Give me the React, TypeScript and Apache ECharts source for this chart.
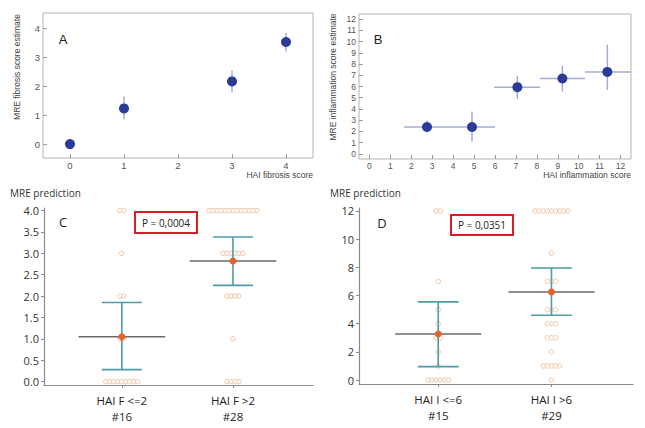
import React, { useEffect, useRef } from "react";
import * as echarts from "echarts";

// Panel A: fibrosis
const aX = [0, 1, 3, 4];
const aY = [0, 1.23, 2.16, 3.52];
const aYLow = [-0.04, 0.85, 1.78, 3.19];
const aYHigh = [0.04, 1.64, 2.54, 3.83];
const aTicksX = [0, 1, 2, 3, 4];
const aTicksY = [0, 1, 2, 3, 4];

// Panel B: inflammation
const bX = [2.75, 4.9, 7.07, 9.22, 11.37];
const bY = [2.4, 2.4, 5.94, 6.71, 7.3];
const bXLow = [1.66, 3.85, 5.96, 8.15, 10.3];
const bXHigh = [3.85, 6.0, 8.15, 10.3, 12.5];
const bYLow = [1.9, 1.1, 4.87, 5.55, 5.7];
const bYHigh = [2.97, 3.77, 6.95, 7.84, 9.71];
const bTicks = [0, 1, 2, 3, 4, 5, 6, 7, 8, 9, 10, 11, 12];

// Panel C: MRE prediction vs HAI F
const cCategories = ["HAI F <=2\n#16", "HAI F >2\n#28"];
const cGroup1 = [0, 0, 0, 0, 0, 0, 0, 0, 0, 1, 1, 2, 2, 3, 4, 4];
const cGroup2 = [0, 0, 0, 0, 1, 2, 2, 2, 2, 3, 3, 3, 3, 3, 3, 4, 4, 4, 4, 4, 4, 4, 4, 4, 4, 4, 4, 4];
const cMeans = [1.05, 2.82];
const cLow = [0.28, 2.25];
const cHigh = [1.85, 3.38];
const cTicks = [0, 0.5, 1, 1.5, 2, 2.5, 3, 3.5, 4];

// Panel D: MRE prediction vs HAI I
const dCategories = ["HAI I <=6\n#15", "HAI I >6\n#29"];
const dGroup1 = [0, 0, 0, 0, 0, 0, 1, 2, 3, 3, 4, 5, 7, 12, 12];
const dGroup2 = [0, 1, 1, 1, 1, 1, 2, 3, 3, 3, 4, 4, 4, 5, 5, 5, 7, 7, 7, 9, 12, 12, 12, 12, 12, 12, 12, 12, 12];
const dMeans = [3.27, 6.25];
const dLow = [0.95, 4.6];
const dHigh = [5.55, 7.95];
const dTicks = [0, 2, 4, 6, 8, 10, 12];

const BLUE = "#2a3b98";
const ERR = "#a4aad6";
const TEAL = "#4d9ca6";
const MEANLINE = "#6a6a6a";
const DOT = "#efb78c";
const MEANDOT = "#e3632c";

function buildDots(values: number[], center: number, spacing: number) {
  const counts: Record<string, number> = {};
  values.forEach((v) => (counts[v] = (counts[v] || 0) + 1));
  const out: number[][] = [];
  Object.keys(counts).forEach((k) => {
    const n = counts[k];
    for (let i = 0; i < n; i++) out.push([center + (i - (n - 1) / 2) * spacing, Number(k)]);
  });
  return out;
}

const errRender = (params: any, api: any) => {
  const x = api.value(0), y = api.value(1);
  const xl = api.value(2), xh = api.value(3), yl = api.value(4), yh = api.value(5);
  const st = { stroke: ERR, lineWidth: 1.5 };
  const h1 = api.coord([xl, y]), h2 = api.coord([xh, y]);
  const v1 = api.coord([x, yl]), v2 = api.coord([x, yh]);
  return {
    type: "group",
    children: [
      { type: "line", shape: { x1: h1[0], y1: h1[1], x2: h2[0], y2: h2[1] }, style: st },
      { type: "line", shape: { x1: v1[0], y1: v1[1], x2: v2[0], y2: v2[1] }, style: st },
    ],
  };
};

const meanRender = (half: number, cap: number) => (params: any, api: any) => {
  const x = api.value(0), m = api.value(1), lo = api.value(2), hi = api.value(3);
  const a = api.coord([x - half, m]), b = api.coord([x + half, m]);
  const l1 = api.coord([x - cap, lo]), l2 = api.coord([x + cap, lo]);
  const u1 = api.coord([x - cap, hi]), u2 = api.coord([x + cap, hi]);
  const c1 = api.coord([x, lo]), c2 = api.coord([x, hi]);
  const ts = { stroke: TEAL, lineWidth: 1.6 };
  return {
    type: "group",
    children: [
      { type: "line", shape: { x1: c1[0], y1: c1[1], x2: c2[0], y2: c2[1] }, style: ts },
      { type: "line", shape: { x1: l1[0], y1: l1[1], x2: l2[0], y2: l2[1] }, style: ts },
      { type: "line", shape: { x1: u1[0], y1: u1[1], x2: u2[0], y2: u2[1] }, style: ts },
      { type: "line", shape: { x1: a[0], y1: a[1], x2: b[0], y2: b[1] }, style: { stroke: MEANLINE, lineWidth: 1.6 } },
    ],
  };
};

export default function App() {
  const ref = useRef<HTMLDivElement>(null);
  useEffect(() => {
    if (!ref.current) return;
    const chart = echarts.init(ref.current, null, { renderer: "svg" });
    const font = "'Liberation Sans', Arial, sans-serif";
    const font2 = "'Open Sans', sans-serif";
    const boxAxisX = (gi: number, min: number, max: number, ticks: number[], fs: number) => ({
      gridIndex: gi, type: "value", min, max,
      splitLine: { show: false },
      axisLine: { show: false, onZero: false },
      axisTick: { show: true, inside: true, length: 4, customValues: ticks, lineStyle: { color: "#9a9a9a" } },
      axisLabel: { customValues: ticks, fontSize: fs, color: "#555", margin: 2, fontFamily: font },
    });
    const boxAxisY = (gi: number, min: number, max: number, ticks: number[], fs: number) => ({
      gridIndex: gi, type: "value", min, max,
      splitLine: { show: false },
      axisLine: { show: false, onZero: false },
      axisTick: { show: true, inside: true, length: 4, customValues: ticks, lineStyle: { color: "#9a9a9a" } },
      axisLabel: { customValues: ticks, fontSize: fs, color: "#555", margin: 3, fontFamily: font },
    });
    const catAxisX = (gi: number, cats: string[]) => ({
      gridIndex: gi, type: "value", min: -0.7, max: 1.72,
      splitLine: { show: false },
      axisLine: { show: true, onZero: false, lineStyle: { color: "#8a8a8a", width: 1.2 } },
      axisTick: { show: true, length: 3, customValues: [0, 1], lineStyle: { color: "#8a8a8a" } },
      axisLabel: {
        customValues: [0, 1], formatter: (v: number) => cats[Math.round(v)],
        fontSize: 11.5, lineHeight: 16, color: "#222", margin: 7, fontFamily: font2,
      },
    });
    const predAxisY = (gi: number, min: number, max: number, ticks: number[], dec: number) => ({
      gridIndex: gi, type: "value", min, max,
      splitLine: { show: false },
      axisLine: { show: true, onZero: false, lineStyle: { color: "#8a8a8a", width: 1.2 } },
      axisTick: { show: true, length: 3, customValues: ticks, lineStyle: { color: "#8a8a8a" } },
      axisLabel: {
        customValues: ticks, formatter: (v: number) => v.toFixed(dec),
        fontSize: 11, color: "#333", margin: 5, fontFamily: font2,
      },
    });

    const dotStyle = { color: "#ffffff", borderColor: DOT, borderWidth: 1 };
    const dotSeries = (xi: number, data: number[][]) => ({
      type: "scatter", xAxisIndex: xi, yAxisIndex: xi, data, symbol: "circle", symbolSize: 4.5,
      itemStyle: dotStyle, z: 2, silent: true,
    });

    chart.setOption({
      animation: false,
      grid: [
        { left: 43, top: 13, width: 270, height: 145, show: true, borderColor: "#b4b4b4", borderWidth: 1, backgroundColor: "transparent" },
        { left: 359, top: 14, width: 272, height: 145, show: true, borderColor: "#b4b4b4", borderWidth: 1, backgroundColor: "transparent" },
        { left: 44, top: 208, width: 269, height: 177 },
        { left: 359, top: 208, width: 274, height: 176 },
      ],
      xAxis: [
        boxAxisX(0, -0.5, 4.5, aTicksX, 9.5),
        boxAxisX(1, -0.5, 12.5, bTicks, 8.5),
        catAxisX(2, cCategories),
        catAxisX(3, dCategories),
      ],
      yAxis: [
        boxAxisY(0, -0.48, 4.52, aTicksY, 9.5),
        boxAxisY(1, -0.45, 12.45, bTicks, 8.5),
        predAxisY(2, -0.08, 4.06, cTicks, 1),
        predAxisY(3, -0.28, 12.21, dTicks, 0),
      ],
      series: [
        {
          type: "custom", xAxisIndex: 0, yAxisIndex: 0, renderItem: errRender, z: 2,
          data: aX.map((x, i) => [x, aY[i], x, x, aYLow[i], aYHigh[i]]),
        },
        {
          type: "scatter", xAxisIndex: 0, yAxisIndex: 0, symbolSize: 10, z: 3,
          itemStyle: { color: BLUE, opacity: 1 }, data: aX.map((x, i) => [x, aY[i]]),
        },
        {
          type: "custom", xAxisIndex: 1, yAxisIndex: 1, renderItem: errRender, z: 2,
          data: bX.map((x, i) => [x, bY[i], bXLow[i], bXHigh[i], bYLow[i], bYHigh[i]]),
        },
        {
          type: "scatter", xAxisIndex: 1, yAxisIndex: 1, symbolSize: 10, z: 3,
          itemStyle: { color: BLUE, opacity: 1 }, data: bX.map((x, i) => [x, bY[i]]),
        },
        dotSeries(2, [...buildDots(cGroup1, 0, 0.036), ...buildDots(cGroup2, 1, 0.036)]),
        {
          type: "custom", xAxisIndex: 2, yAxisIndex: 2, renderItem: meanRender(0.39, 0.18), z: 3,
          data: cMeans.map((m, i) => [i, m, cLow[i], cHigh[i]]),
        },
        {
          type: "scatter", xAxisIndex: 2, yAxisIndex: 2, symbolSize: 7, z: 4,
          itemStyle: { color: MEANDOT, opacity: 1 }, data: cMeans.map((m, i) => [i, m]),
        },
        dotSeries(3, [...buildDots(dGroup1, 0, 0.036), ...buildDots(dGroup2, 1, 0.036)]),
        {
          type: "custom", xAxisIndex: 3, yAxisIndex: 3, renderItem: meanRender(0.38, 0.18), z: 3,
          data: dMeans.map((m, i) => [i, m, dLow[i], dHigh[i]]),
        },
        {
          type: "scatter", xAxisIndex: 3, yAxisIndex: 3, symbolSize: 7, z: 4,
          itemStyle: { color: MEANDOT, opacity: 1 }, data: dMeans.map((m, i) => [i, m]),
        },
      ],
      graphic: [
        { type: "text", x: 63, y: 39, style: { text: "A", fontSize: 13, fill: "#222", align: "center", verticalAlign: "middle", fontFamily: font } },
        { type: "text", x: 378, y: 39, style: { text: "B", fontSize: 13, fill: "#222", align: "center", verticalAlign: "middle", fontFamily: font } },
        { type: "text", x: 17, y: 67, rotation: Math.PI / 2, style: { text: "MRE fibrosis score estimate", fontSize: 8.5, fill: "#444", align: "center", verticalAlign: "middle", fontFamily: font } },
        { type: "text", x: 333, y: 77, rotation: Math.PI / 2, style: { text: "MRE inflammation score estimate", fontSize: 8.5, fill: "#444", align: "center", verticalAlign: "middle", fontFamily: font } },
        { type: "text", x: 313, y: 175, style: { text: "HAI fibrosis score", fontSize: 8.5, fill: "#444", align: "right", verticalAlign: "middle", fontFamily: font } },
        { type: "text", x: 631, y: 175, style: { text: "HAI inflammation score", fontSize: 8.5, fill: "#444", align: "right", verticalAlign: "middle", fontFamily: font } },
        { type: "text", x: 10, y: 193, style: { text: "MRE prediction", fontSize: 10, fill: "#333", align: "left", verticalAlign: "middle", fontFamily: font2 } },
        { type: "text", x: 330, y: 193, style: { text: "MRE prediction", fontSize: 10, fill: "#333", align: "left", verticalAlign: "middle", fontFamily: font2 } },
        { type: "text", x: 63, y: 222, style: { text: "C", fontSize: 13, fill: "#222", align: "center", verticalAlign: "middle", fontFamily: font2 } },
        { type: "text", x: 382, y: 223, style: { text: "D", fontSize: 13, fill: "#222", align: "center", verticalAlign: "middle", fontFamily: font2 } },
        { type: "rect", shape: { x: 135, y: 212, width: 62, height: 21 }, style: { fill: "#fff", stroke: "#d42027", lineWidth: 2 } },
        { type: "text", x: 166, y: 222.5, style: { text: "P = 0,0004", fontSize: 10, fill: "#222", align: "center", verticalAlign: "middle", fontFamily: font2 } },
        { type: "rect", shape: { x: 451, y: 215, width: 62, height: 20 }, style: { fill: "#fff", stroke: "#d42027", lineWidth: 2 } },
        { type: "text", x: 482, y: 225, style: { text: "P = 0,0351", fontSize: 10, fill: "#222", align: "center", verticalAlign: "middle", fontFamily: font2 } },
      ],
    });
    return () => chart.dispose();
  }, []);
  return (
    <div
      ref={ref}
      style={{ position: "absolute", left: 0, top: 0, width: 645, height: 428, background: "#fff" }}
    />
  );
}
